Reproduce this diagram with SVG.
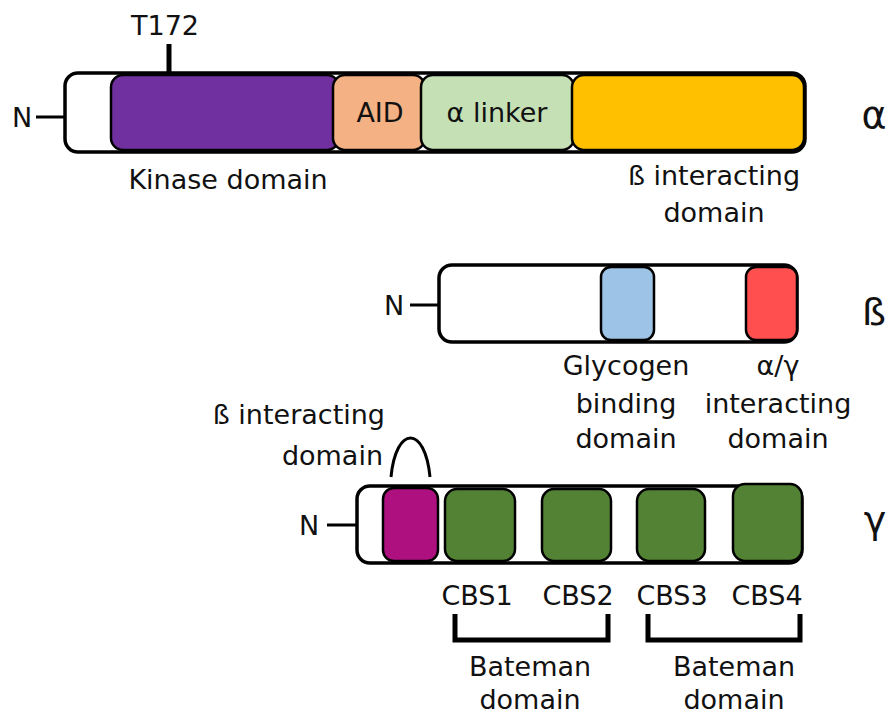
<svg xmlns="http://www.w3.org/2000/svg" width="888" height="715" viewBox="0 0 888 715">
  <style>
    text { font-family: "DejaVu Sans", "Liberation Sans", sans-serif; fill: #111; }
    .lbl { font-size: 27px; text-anchor: middle; }
    .end { text-anchor: end; }
    .sub { font-size: 38px; text-anchor: middle; }
    .n { font-size: 27px; text-anchor: middle; }
    .outline { fill: #fff; stroke: #000; stroke-width: 3.5; }
    .dom { stroke: #000; stroke-width: 2.5; }
    .line { stroke: #000; stroke-width: 3; fill: none; }
    .thick { stroke: #000; stroke-width: 5; fill: none; }
  </style>

  <!-- alpha subunit -->
  <g id="alpha">
    <line class="line" x1="36" y1="117" x2="65" y2="117"/>
    <text class="n" x="22" y="127">N</text>
    <rect class="outline" x="65" y="73" width="740" height="79" rx="13"/>
    <rect class="dom" x="111" y="75" width="228" height="75" rx="12" fill="#7030A0"/>
    <rect class="dom" x="333" y="75" width="92" height="75" rx="12" fill="#F4B183"/>
    <rect class="dom" x="421" y="75" width="153" height="75" rx="12" fill="#C5E0B4"/>
    <rect class="dom" x="572" y="75" width="232" height="75" rx="12" fill="#FFC000"/>
    <line class="thick" x1="169" y1="44" x2="169" y2="73"/>
    <text class="lbl" x="165" y="35">T172</text>
    <text class="lbl" x="380" y="122">AID</text>
    <text class="lbl" x="497" y="122">α linker</text>
    <text class="lbl" x="228" y="189">Kinase domain</text>
    <text class="lbl" x="714" y="185">ß interacting</text>
    <text class="lbl" x="714" y="222">domain</text>
    <text class="sub" x="874" y="128">α</text>
  </g>

  <!-- beta subunit -->
  <g id="beta">
    <line class="line" x1="410" y1="305" x2="439" y2="305"/>
    <text class="n" x="394" y="315">N</text>
    <rect class="outline" x="439" y="265" width="358" height="77" rx="13"/>
    <rect class="dom" x="601" y="267" width="53" height="73" rx="10" fill="#9DC3E6"/>
    <rect class="dom" x="746" y="267" width="51" height="73" rx="10" fill="#FF4F4F"/>
    <text class="lbl" x="626" y="375">Glycogen</text>
    <text class="lbl" x="626" y="413">binding</text>
    <text class="lbl" x="626" y="448">domain</text>
    <text class="lbl" x="778" y="375">α/γ</text>
    <text class="lbl" x="778" y="413">interacting</text>
    <text class="lbl" x="778" y="448">domain</text>
    <text class="sub" x="874" y="325">ß</text>
  </g>

  <!-- gamma subunit -->
  <g id="gamma">
    <line class="line" x1="327" y1="525" x2="357" y2="525"/>
    <text class="n" x="309" y="535">N</text>
    <rect class="outline" x="357" y="486" width="445" height="77" rx="13"/>
    <rect class="dom" x="383" y="488" width="55" height="73" rx="11" fill="#AE117F"/>
    <rect class="dom" x="445" y="489" width="70" height="72" rx="12" fill="#548235"/>
    <rect class="dom" x="542" y="489" width="69" height="72" rx="12" fill="#548235"/>
    <rect class="dom" x="637" y="489" width="68" height="72" rx="12" fill="#548235"/>
    <rect class="dom" x="733" y="484" width="69" height="77" rx="12" fill="#548235"/>
    <path class="line" d="M391,477 C396,425 425,425 430,477"/>
    <text class="lbl end" x="385" y="424">ß interacting</text>
    <text class="lbl end" x="383" y="465">domain</text>
    <text class="lbl" x="477" y="605">CBS1</text>
    <text class="lbl" x="578" y="605">CBS2</text>
    <text class="lbl" x="672" y="605">CBS3</text>
    <text class="lbl" x="767" y="605">CBS4</text>
    <text class="sub" x="875" y="533">γ</text>
  </g>

  <!-- Bateman domain brackets -->
  <g id="bateman1">
    <path class="thick" d="M455,614 V640 H608 V614"/>
    <text class="lbl" x="530" y="676">Bateman</text>
    <text class="lbl" x="530" y="709">domain</text>
  </g>
  <g id="bateman2">
    <path class="thick" d="M648,614 V640 H800 V614"/>
    <text class="lbl" x="734" y="676">Bateman</text>
    <text class="lbl" x="734" y="709">domain</text>
  </g>
</svg>
